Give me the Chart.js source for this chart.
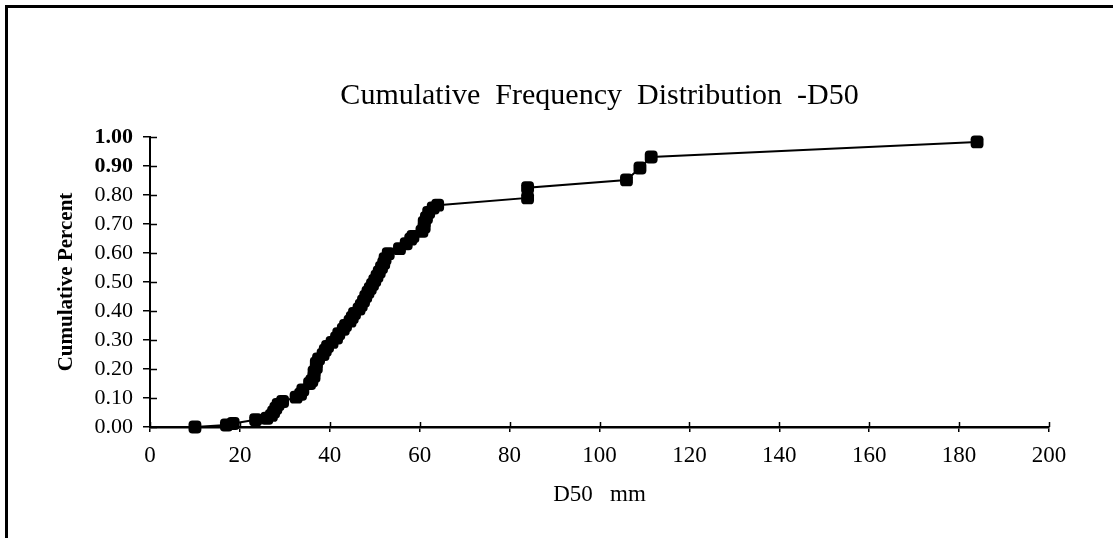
<!DOCTYPE html>
<html>
<head>
<meta charset="utf-8">
<script src="https://cdn.jsdelivr.net/npm/chart.js@4.4.0/dist/chart.umd.min.js"></script>
<style>
  html, body { margin: 0; padding: 0; background: #ffffff; }
  #wrap { width: 1113px; height: 538px; }
</style>
</head>
<body>
<div id="wrap"><canvas id="c" width="1113" height="538"></canvas></div>
<script>
// D50 values (mm) and cumulative fraction
const d50Values = [
  10, 17, 18.5, 23.5, 26, 27, 27.5, 28, 28.5, 29.5,
  32.5, 33.5, 34, 35.5, 36, 36.5, 36.5, 37, 37, 37.5,
  38.5, 39, 39.5, 40.5, 41.5, 42, 43, 43.5, 44.5, 45,
  45.5, 46.5, 47, 47.5, 48, 48.5, 49, 49.5, 50, 50.5,
  51, 51.5, 52, 52.3, 53, 55.5, 57, 58, 58.5, 60.5,
  61, 61, 61.5, 62, 63, 64, 84, 84, 106, 109,
  111.5, 184
];
const cumulativeValues = [
  0.000, 0.007, 0.012, 0.025, 0.030, 0.040, 0.052, 0.065, 0.078, 0.088,
  0.103, 0.113, 0.128, 0.150, 0.160, 0.175, 0.190, 0.205, 0.220, 0.235,
  0.250, 0.265, 0.278, 0.292, 0.307, 0.322, 0.337, 0.350, 0.365, 0.378,
  0.392, 0.407, 0.420, 0.435, 0.450, 0.465, 0.478, 0.492, 0.505, 0.520,
  0.535, 0.550, 0.565, 0.580, 0.598, 0.615, 0.632, 0.648, 0.657, 0.675,
  0.690, 0.705, 0.722, 0.740, 0.755, 0.765, 0.790, 0.825, 0.852, 0.893,
  0.931, 0.983
];
const xTickValues = [0, 20, 40, 60, 80, 100, 120, 140, 160, 180, 200];
const yTickValues = [0, 0.1, 0.2, 0.3, 0.4, 0.5, 0.6, 0.7, 0.8, 0.9, 1.0];
const boldYTicks = [0.9, 1.0];

const chartTitle = 'Cumulative  Frequency  Distribution  -D50';
const xTitle = 'D50   mm';
const yTitle = 'Cumulative Percent';

const points = d50Values.map((x, i) => ({ x: x, y: cumulativeValues[i] }));

const SERIF = "'Liberation Serif', 'DejaVu Serif', serif";

// frame lines and crossing tick marks inside the plot
const decorPlugin = {
  id: 'decor',
  afterDraw(chart) {
    const ctx = chart.ctx;
    const xs = chart.scales.x, ys = chart.scales.y;
    ctx.save();
    ctx.strokeStyle = '#000';
    // page frame (top and left)
    ctx.lineWidth = 3;
    ctx.beginPath();
    ctx.moveTo(6.5, 538);
    ctx.lineTo(6.5, 6.5);
    ctx.lineTo(1113, 6.5);
    ctx.stroke();
    // inner halves of the crossing tick marks
    ctx.lineWidth = 1.5;
    ctx.beginPath();
    xTickValues.forEach(v => {
      const px = Math.round(xs.getPixelForValue(v)) + 0.5;
      ctx.moveTo(px, xs.top);
      ctx.lineTo(px, xs.top - 5);
    });
    yTickValues.forEach(v => {
      const py = Math.round(ys.getPixelForValue(v)) + 0.5;
      ctx.moveTo(ys.right, py);
      ctx.lineTo(ys.right + 7, py);
    });
    ctx.stroke();
    ctx.restore();
  }
};

new Chart(document.getElementById('c'), {
  type: 'scatter',
  data: {
    datasets: [{
      data: points,
      showLine: true,
      borderColor: '#000',
      backgroundColor: '#000',
      borderWidth: 2,
      tension: 0,
      pointStyle: 'rectRounded',
      pointRadius: 7.5,
      pointHoverRadius: 7.5,
      pointBorderWidth: 0,
      clip: false
    }]
  },
  options: {
    responsive: false,
    animation: false,
    devicePixelRatio: 1,
    layout: { padding: { left: 20, right: 64, top: 0, bottom: 0 } },
    plugins: {
      legend: { display: false },
      tooltip: { enabled: false },
      title: {
        display: true,
        text: chartTitle,
        fullSize: false,
        color: '#000',
        font: { family: SERIF, size: 30, weight: 'normal', lineHeight: 1.2 },
        padding: { top: 78, bottom: 23 }
      }
    },
    scales: {
      x: {
        type: 'linear',
        min: 0, max: 200,
        afterBuildTicks(scale) { scale.ticks = xTickValues.map(v => ({ value: v })); },
        afterFit(scale) { scale.height = 111; },
        grid: {
          drawOnChartArea: false, drawTicks: true, tickLength: 5,
          color: '#000', lineWidth: 1.5
        },
        border: { display: true, color: '#000', width: 2.5 },
        ticks: {
          color: '#000',
          padding: 10,
          maxRotation: 0,
          autoSkip: false,
          font: { family: SERIF, size: 23 },
          callback: v => String(v)
        },
        title: {
          display: true,
          text: xTitle,
          color: '#000',
          font: { family: SERIF, size: 23 },
          padding: { top: 0, bottom: 29 }
        }
      },
      y: {
        type: 'linear',
        min: 0, max: 1,
        afterBuildTicks(scale) { scale.ticks = yTickValues.map(v => ({ value: v })); },
        afterFit(scale) { scale.width = 130; },
        grid: {
          drawOnChartArea: false, drawTicks: true, tickLength: 7,
          color: '#000', lineWidth: 1.5
        },
        border: { display: true, color: '#000', width: 2 },
        ticks: {
          color: '#000',
          padding: 10,
          autoSkip: false,
          font: ctx => ({
            family: SERIF,
            size: 22,
            weight: (ctx.tick && boldYTicks.some(b => Math.abs(b - ctx.tick.value) < 1e-6)) ? 'bold' : 'normal'
          }),
          callback: v => Number(v).toFixed(2)
        },
        title: {
          display: true,
          text: yTitle,
          color: '#000',
          font: { family: SERIF, size: 21, weight: 'bold' },
          padding: { top: 34, bottom: 0 }
        }
      }
    }
  },
  plugins: [decorPlugin]
});
</script>
</body>
</html>
